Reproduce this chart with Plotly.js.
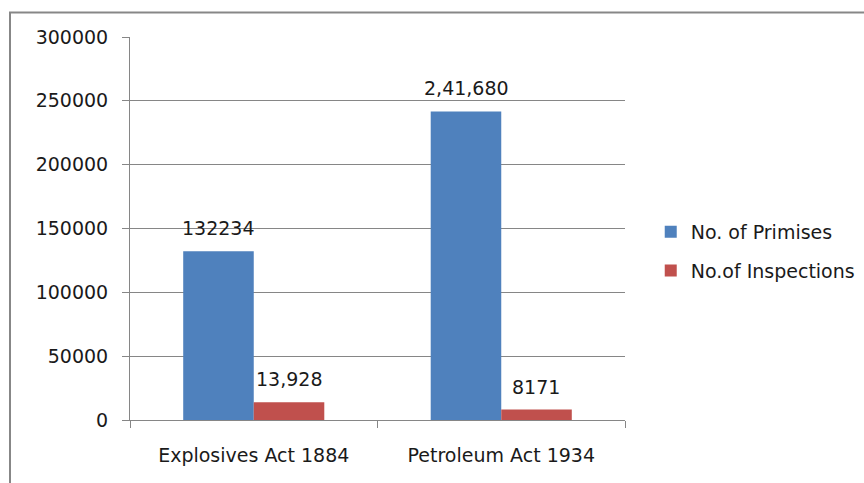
<!DOCTYPE html>
<html><head><meta charset="utf-8">
<script src="https://cdn.plot.ly/plotly-3.0.1.min.js"></script>
<style>html,body{margin:0;padding:0;background:#fff}#chart{width:864px;height:483px}</style>
</head><body><div id="chart"></div>
<script>
const categories = ["Explosives Act 1884", "Petroleum Act 1934"];
const premises = [132234, 241680];
const premisesLabels = ["132234", "2,41,680"];
const inspections = [13928, 8171];
const inspectionsLabels = ["13,928", "8171"];
const seriesNames = ["No. of Primises", "No.of Inspections"];

const font = {family: "DejaVu Sans, Verdana, sans-serif", size: 19, color: "#1a1a1a"};
const grid = "#868686";

const traces = [
  {type: "bar", x: categories, y: premises, name: seriesNames[0], legendgroup: "a",
   marker: {color: "#4F81BD"}, hoverinfo: "none"},
  {type: "bar", x: categories, y: inspections, name: seriesNames[1], legendgroup: "b",
   marker: {color: "#C0504D"}, hoverinfo: "none"}
];

const annotations = [];
categories.forEach((c, i) => {
  annotations.push({x: c, y: premises[i], text: premisesLabels[i], xref: "x", yref: "y",
    showarrow: false, xshift: -35, yshift: 23, yanchor: "middle", font: font});
  annotations.push({x: c, y: inspections[i], text: inspectionsLabels[i], xref: "x", yref: "y",
    showarrow: false, xshift: 35, yshift: 23, yanchor: "middle", font: font});
});

const layout = {
  width: 864, height: 483,
  margin: {l: 130, r: 239, t: 36.5, b: 63, pad: 0, autoexpand: false},
  paper_bgcolor: "#fff", plot_bgcolor: "#fff",
  font: font,
  barmode: "group", bargap: 0.43, bargroupgap: 0,
  showlegend: true,
  legend: {x: 1.052, y: 0.44, xanchor: "left", yanchor: "middle", font: font,
           traceorder: "grouped", itemwidth: 30, tracegroupgap: 11, bgcolor: "rgba(0,0,0,0)"},
  xaxis: {type: "category", showline: true, linecolor: grid, linewidth: 1,
          ticks: "outside", tickson: "boundaries", ticklen: 7, tickcolor: grid,
          showgrid: false, ticklabelstandoff: 18, tickfont: font, zeroline: false},
  yaxis: {range: [0, 300000], tickvals: [0, 50000, 100000, 150000, 200000, 250000, 300000],
          ticktext: ["0", "50000", "100000", "150000", "200000", "250000", "300000"],
          showline: true, linecolor: grid, linewidth: 1,
          ticks: "outside", ticklen: 7, tickcolor: grid,
          showgrid: true, gridcolor: grid, gridwidth: 1, zeroline: false,
          ticklabelstandoff: 10, tickfont: font},
  annotations: annotations,
  shapes: [{type: "rect", xref: "paper", yref: "paper",
            x0: (10 - 130) / 495, x1: 1.6, y0: -0.3, y1: (420 - 12) / 383.5,
            line: {color: "#878787", width: 2}, fillcolor: "rgba(0,0,0,0)", layer: "below"}]
};

Plotly.newPlot("chart", traces, layout, {displayModeBar: false, staticPlot: true});
</script></body></html>
